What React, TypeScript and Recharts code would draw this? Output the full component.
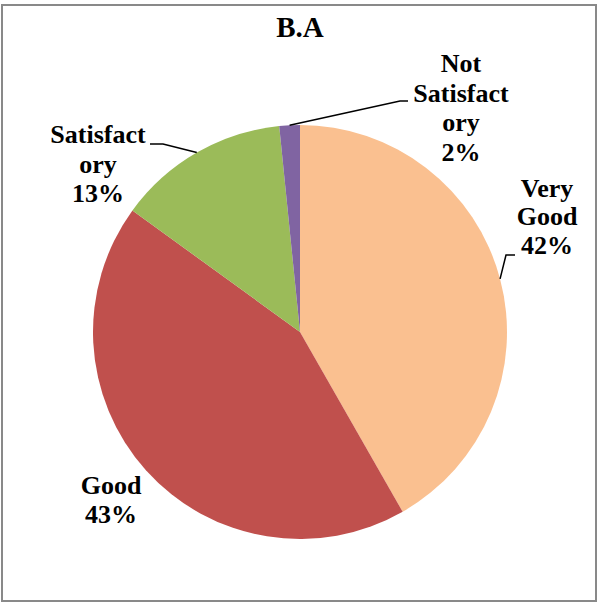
import React from 'react';
import { PieChart, Pie, Cell } from 'recharts';

// slice values in percent
const categories = ['Very Good', 'Good', 'Satisfactory', 'Not Satisfactory'];
const values = [41.7, 43.2, 13.4, 1.6];
const labelLines = [['Very', 'Good'], ['Good'], ['Satisfact', 'ory'], ['Not', 'Satisfact', 'ory']];
const colors = ['#FAC090', '#C0504D', '#9BBB59', '#8064A2'];

const data = categories.map((name, i) => ({ name, value: values[i] }));

// label placement relative to the pie centre (moved by hand in the original)
const labelLayout = [
	{ tx: 247, ty: -135, gap: 28.3, line: [[206, -77], [215, -77]] },
	{ tx: -189, ty: 162, gap: 29, line: null },
	{ tx: -202, ty: -189, gap: 29.5, line: [[-137, -188], [-150, -188]] },
	{ tx: 161, ty: -260, gap: 29.5, line: [[100, -231], [108, -231]] }
];

const RADIAN = Math.PI / 180;
const FONT = "'Liberation Serif', 'Times New Roman', Tinos, 'DejaVu Serif', serif";

const SliceLabel = (props: any) => {
	const { cx, cy, midAngle, outerRadius, percent, index } = props;
	const lay = labelLayout[index];
	const lines = [...labelLines[index], `${Math.round(percent * 100)}%`];
	let path = null;
	if (lay.line) {
		const ex = cx + outerRadius * Math.cos(-midAngle * RADIAN);
		const ey = cy + outerRadius * Math.sin(-midAngle * RADIAN);
		const d = `M${ex},${ey} L${cx + lay.line[0][0]},${cy + lay.line[0][1]} L${cx + lay.line[1][0]},${cy + lay.line[1][1]}`;
		path = <path d={d} stroke="#000" strokeWidth={1.5} fill="none" />;
	}
	return (
		<g>
			{path}
			<text
				x={cx + lay.tx}
				y={cy + lay.ty}
				textAnchor="middle"
				fill="#000"
				style={{ fontFamily: FONT, fontWeight: 700, fontSize: 26 }}
			>
				{lines.map((l, i) => (
					<tspan key={i} x={cx + lay.tx} y={cy + lay.ty + i * lay.gap} style={{ fontFamily: FONT }}>
						{l}
					</tspan>
				))}
			</text>
		</g>
	);
};

const App = () => {
	return (
		<div style={{ position: 'absolute', left: 0, top: 0, width: 598, height: 603, background: '#fff', fontFamily: FONT }}>
			<div
				style={{
					position: 'absolute',
					left: 1,
					top: 4,
					width: 596,
					height: 598,
					border: '2px solid #898989',
					boxSizing: 'border-box'
				}}
			/>
			<PieChart width={598} height={603} margin={{ top: 0, right: 0, bottom: 0, left: 0 }}>
				<Pie
					data={data}
					dataKey="value"
					nameKey="name"
					cx={300}
					cy={332}
					outerRadius={207}
					startAngle={90}
					endAngle={-270}
					stroke="none"
					label={<SliceLabel />}
					labelLine={false}
					isAnimationActive={false}
				>
					{data.map((d, i) => (
						<Cell key={d.name} fill={colors[i]} />
					))}
				</Pie>
			</PieChart>
			<svg width={598} height={603} style={{ position: 'absolute', left: 0, top: 0, pointerEvents: 'none' }}>
				<text
					x={300}
					y={37}
					textAnchor="middle"
					fill="#000"
					style={{ fontFamily: FONT, fontWeight: 700, fontSize: 29 }}
				>
					B.A
				</text>
			</svg>
		</div>
	);
};

export default App;
